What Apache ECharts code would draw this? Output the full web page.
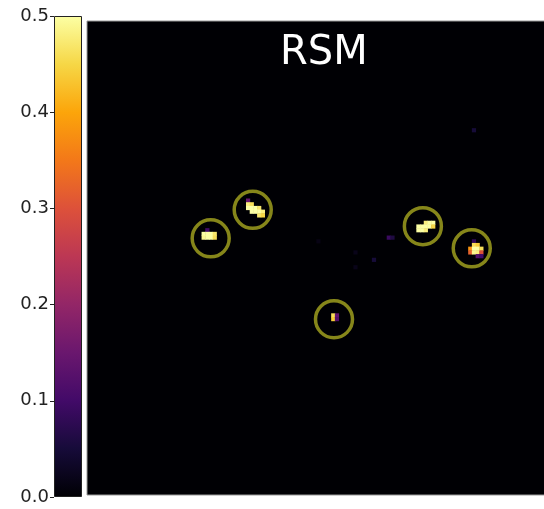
<!DOCTYPE html>
<html>
<head>
<meta charset="utf-8">
<script src="https://cdn.jsdelivr.net/npm/echarts@6/dist/echarts.min.js"></script>
<style>
  html, body { margin: 0; padding: 0; background: #ffffff; }
  #chart { width: 544px; height: 509px; }
</style>
</head>
<body>
<div id="chart"></div>
<script>
// Map size (cells per side)
const N = 128;

// Colour bar range and ticks
const colorMin = 0.0;
const colorMax = 0.5;
const colorTicks = [0.0, 0.1, 0.2, 0.3, 0.4, 0.5];

// Inferno colormap stops
const inferno = ['#000004', '#160b39', '#420a68', '#6a176e', '#932667',
                 '#bc3754', '#dd513a', '#f37819', '#fca50a', '#f6d746', '#fcffa4'];

// Bright sources: [column, row, value]
const sourceA = [
  [32, 56, 0.10],
  [31, 57, 0.50], [32, 57, 0.50], [33, 57, 0.50], [34, 57, 0.47],
  [31, 58, 0.49], [32, 58, 0.50], [33, 58, 0.50], [34, 58, 0.46]
];
const sourceB = [
  [43, 48, 0.15],
  [43, 49, 0.48], [44, 49, 0.46],
  [43, 50, 0.50], [44, 50, 0.50], [45, 50, 0.50], [46, 50, 0.47],
  [44, 51, 0.50], [45, 51, 0.50], [46, 51, 0.50], [47, 51, 0.48],
  [46, 52, 0.47], [47, 52, 0.45]
];
const sourceC = [
  [91, 54, 0.48], [92, 54, 0.50], [93, 54, 0.50],
  [89, 55, 0.50], [90, 55, 0.50], [91, 55, 0.50], [92, 55, 0.50], [93, 55, 0.45],
  [89, 56, 0.50], [90, 56, 0.50], [91, 56, 0.48]
];
const sourceD = [
  [104, 59, 0.08],
  [104, 60, 0.46], [105, 60, 0.44],
  [103, 61, 0.38], [104, 61, 0.50], [105, 61, 0.50], [106, 61, 0.46],
  [103, 62, 0.32], [104, 62, 0.49], [105, 62, 0.48], [106, 62, 0.30],
  [105, 63, 0.12], [106, 63, 0.10]
];
const sourceE = [
  [66, 79, 0.46], [66, 80, 0.44], [67, 79, 0.14], [67, 80, 0.12]
];
// Faint background features
const faint = [
  [81, 58, 0.09], [82, 58, 0.06], [77, 64, 0.05], [104, 29, 0.05],
  [72, 62, 0.02], [72, 66, 0.02], [62, 59, 0.015]
];

// Marker rings around detected sources: [column, row]
const rings = [
  [32.9, 58.2], [44.25, 50.5], [90.2, 54.9], [103.4, 60.9], [66.2, 80.05]
];

const cells = [].concat(sourceA, sourceB, sourceC, sourceD, sourceE, faint);
const idx = Array.from({ length: N }, (_, i) => i);

const chart = echarts.init(document.getElementById('chart'), null, { renderer: 'canvas' });

const ringColor = '#a8a820';

chart.setOption({
  backgroundColor: '#ffffff',
  animation: false,
  graphic: [{
    type: 'text',
    left: 280,
    top: 34,
    z: 100,
    style: {
      text: 'RSM',
      fill: '#ffffff',
      font: '40px "DejaVu Sans"'
    }
  }],
  grid: [
    { left: 87, top: 21, width: 474, height: 474, show: true,
      outerBoundsMode: 'none', containLabel: false,
      backgroundColor: '#000004', borderColor: '#9a9a9a', borderWidth: 1 },
    { left: 54, top: 16, width: 28, height: 481, show: false,
      outerBoundsMode: 'none', containLabel: false }
  ],
  xAxis: [
    { type: 'category', gridIndex: 0, data: idx, show: false },
    { type: 'category', gridIndex: 1, data: ['c'], show: false },
    { type: 'value', gridIndex: 0, min: -0.5, max: N - 0.5, show: false }
  ],
  yAxis: [
    { type: 'category', gridIndex: 0, data: idx, inverse: true, show: false },
    { type: 'value', gridIndex: 1, min: colorMin, max: colorMax, interval: 0.1,
      position: 'left',
      axisLine: { show: false },
      splitLine: { show: false },
      axisTick: { show: true, length: 4, lineStyle: { color: '#222', width: 1 } },
      axisLabel: { color: '#222', fontSize: 18, fontFamily: 'DejaVu Sans', margin: 5,
        formatter: v => v.toFixed(1) } },
    { type: 'value', gridIndex: 0, min: -0.5, max: N - 0.5, inverse: true, show: false }
  ],
  visualMap: {
    type: 'continuous',
    show: false,
    seriesIndex: 0,
    min: colorMin,
    max: colorMax,
    inRange: { color: inferno }
  },
  series: [
    {
      type: 'heatmap',
      xAxisIndex: 0,
      yAxisIndex: 0,
      data: cells,
      itemStyle: { borderWidth: 0 },
      emphasis: { disabled: true }
    },
    {
      type: 'bar',
      xAxisIndex: 1,
      yAxisIndex: 1,
      data: [colorMax],
      barWidth: '100%',
      itemStyle: {
        borderColor: '#222',
        borderWidth: 1,
        color: {
          type: 'linear', x: 0, y: 0, x2: 0, y2: 1,
          colorStops: inferno.slice().reverse().map((c, i) => ({ offset: i / (inferno.length - 1), color: c }))
        }
      }
    },
    {
      type: 'scatter',
      xAxisIndex: 2,
      yAxisIndex: 2,
      data: rings,
      symbol: 'circle',
      symbolSize: 37,
      z: 5,
      itemStyle: { color: 'rgba(0,0,0,0)', borderColor: ringColor, borderWidth: 3.5 }
    }
  ]
});
</script>
</body>
</html>
